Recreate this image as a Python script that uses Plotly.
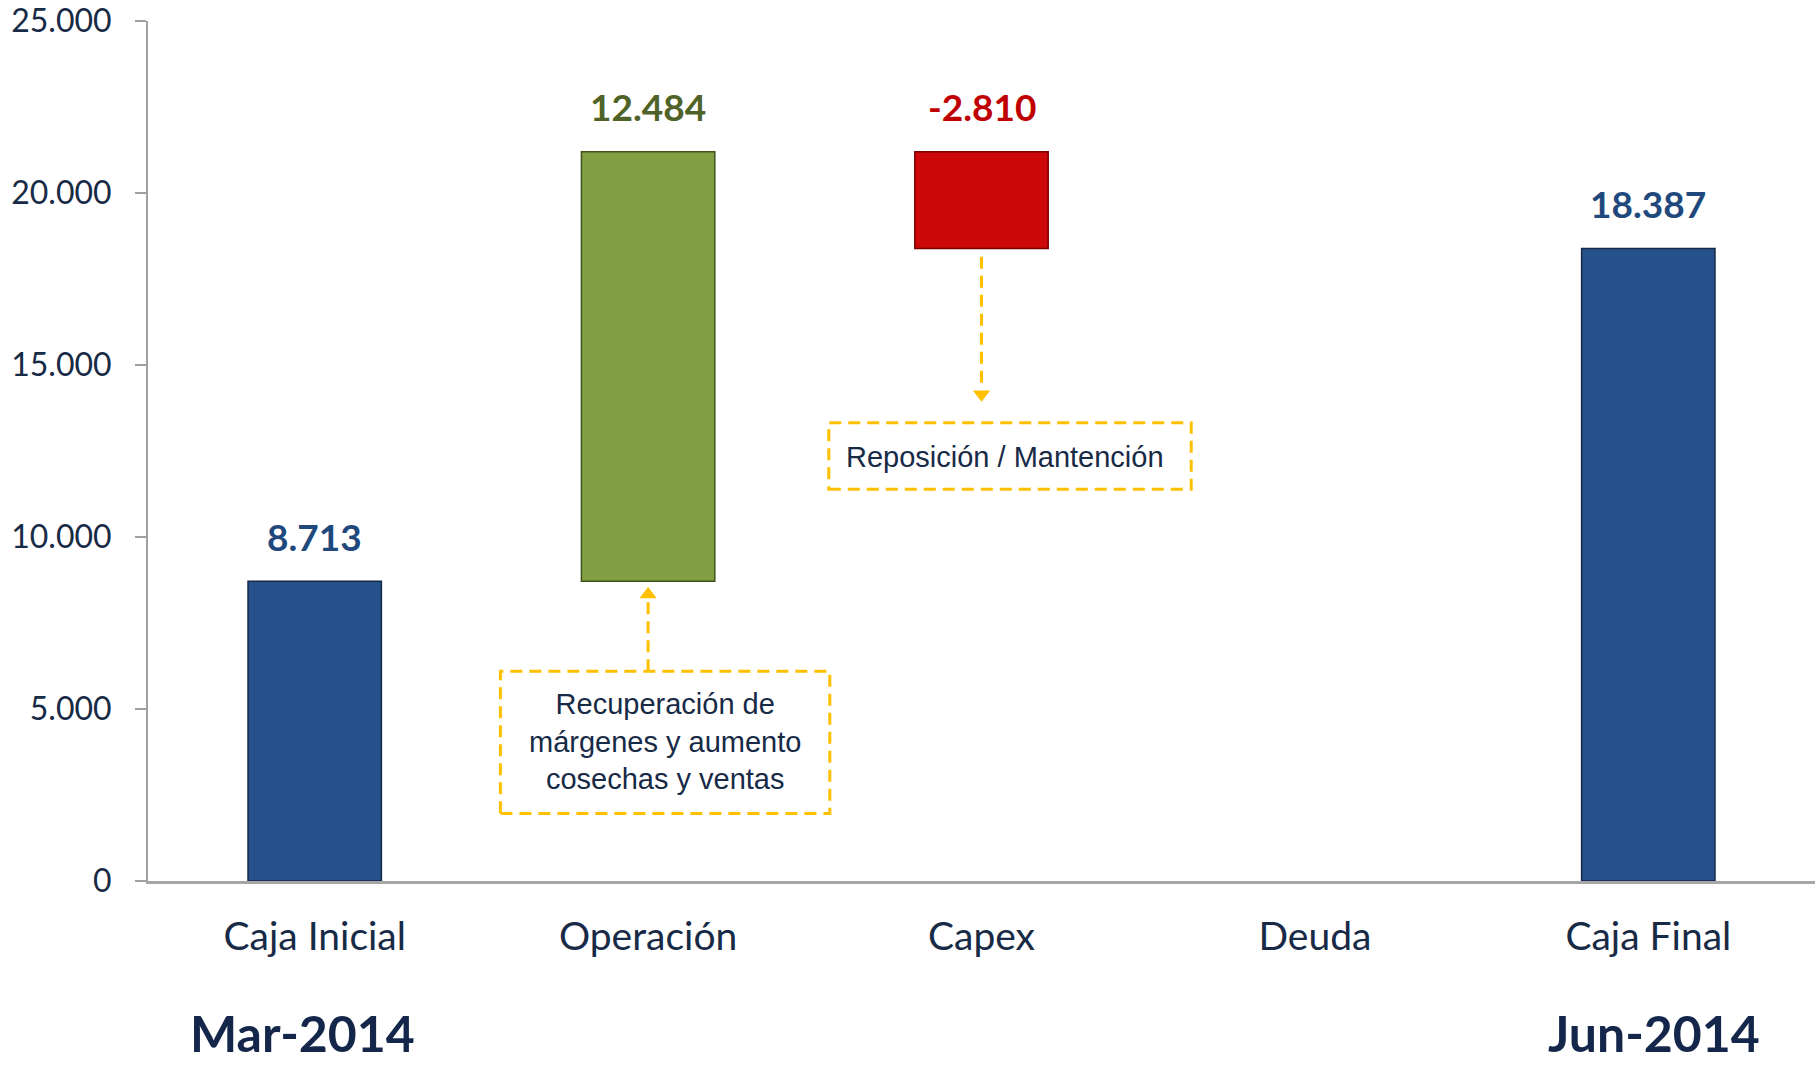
import plotly.graph_objects as go

# data
categories = ["Caja Inicial", "Operación", "Capex", "Deuda", "Caja Final"]
values = [8713, 12484, -2810, 0, 18387]
measures = ["absolute", "relative", "relative", "relative", "total"]
label_colors = ["#1f497d", "#4f6228", "#c00000", None, "#1f497d"]
periods = ["Mar-2014", "Jun-2014"]
notes = ["Recuperación de<br>márgenes y aumento<br>cosechas y ventas",
         "Reposición / Mantención"]

NAVY = "#27518a"
GREEN = "#82a043"
RED = "#cc0808"
GOLD = "#ffc000"
TEXT = "#172a46"
FONT = "Lato"

fig = go.Figure()
fig.add_trace(go.Waterfall(
    x=categories,
    y=values,
    measure=measures,
    connector=dict(visible=False),
    totals=dict(marker=dict(color=NAVY, line=dict(color="#14294a", width=1.5))),
    increasing=dict(marker=dict(color=GREEN, line=dict(color="#3f521c", width=1.5))),
    decreasing=dict(marker=dict(color=RED, line=dict(color="#7a0000", width=1.5))),
    hoverinfo="skip",
    showlegend=False,
))

# value labels above each bar
running = 0
tops = []
for m, v in zip(measures, values):
    if m == "absolute":
        running = v
        tops.append(v)
    elif m == "relative":
        base = running
        running += v
        tops.append(max(base, running))
    else:
        tops.append(running)

for cat, v, top, col in zip(categories, values, tops, label_colors):
    if col is None:
        continue
    txt = f"{v:,}".replace(",", ".")
    fig.add_annotation(x=cat, y=top, text=f"<b>{txt}</b>", showarrow=False,
                       yanchor="middle", yshift=45,
                       font=dict(family=FONT, size=37, color=col))

# period labels
for cat, p in zip([categories[0], categories[-1]], periods):
    fig.add_annotation(x=cat, xshift=-12 if cat == categories[0] else 6,
                       y=-0.177, yref="paper", text=f"<b>{p}</b>",
                       showarrow=False, yanchor="middle",
                       font=dict(family=FONT, size=50, color="#14274a"))

# callout boxes
dash = "12px,7px"
fig.add_shape(type="rect", x0=0.557, x1=1.545, y0=1965, y1=6098,
              line=dict(color=GOLD, width=3, dash=dash))
fig.add_shape(type="line", x0=1, x1=1, y0=6098, y1=8100,
              line=dict(color=GOLD, width=3, dash=dash))
fig.add_annotation(x=1.051, y=4046, text=notes[0], showarrow=False,
                   font=dict(family="Liberation Sans", size=29, color=TEXT),
                   align="center")

fig.add_shape(type="rect", x0=1.542, x1=2.629, y0=11387, y1=13324,
              line=dict(color=GOLD, width=3, dash=dash))
fig.add_shape(type="line", x0=2, x1=2, y0=18150, y1=14400,
              line=dict(color=GOLD, width=3, dash=dash))
fig.add_annotation(x=2.069, y=12312, text=notes[1], showarrow=False,
                   font=dict(family="Liberation Sans", size=29, color=TEXT))

# arrow heads
fig.add_trace(go.Scatter(x=[categories[1], categories[2]], y=[8330, 14150],
                         mode="markers",
                         marker=dict(symbol=["triangle-up", "triangle-down"],
                                     size=15, color=GOLD),
                         hoverinfo="skip", showlegend=False))

fig.update_layout(
    width=1815, height=1066,
    margin=dict(l=148, r=0, t=16, b=185),
    paper_bgcolor="white", plot_bgcolor="white",
    separators=",.",
    waterfallgap=0.6,
    xaxis=dict(type="category", range=[-0.5, 4.5], showgrid=False,
               showline=True, linecolor="#a6a6a6", linewidth=3,
               ticks="", ticklabelstandoff=19,
               tickfont=dict(family=FONT, size=39, color=TEXT)),
    yaxis=dict(range=[0, 25000], dtick=5000, tickformat=",d",
               showgrid=False, zeroline=False,
               showline=True, linecolor="#a0a0a0", linewidth=2,
               ticks="outside", ticklen=11, tickcolor="#a0a0a0", tickwidth=2,
               ticklabelstandoff=17, ticklabeloverflow="allow",
               tickfont=dict(family=FONT, size=32, color=TEXT)),
)

fig.write_html("out.html", config={"displayModeBar": False},
               post_script="document.body.style.margin='0';"
                           "document.body.style.overflow='hidden';")
